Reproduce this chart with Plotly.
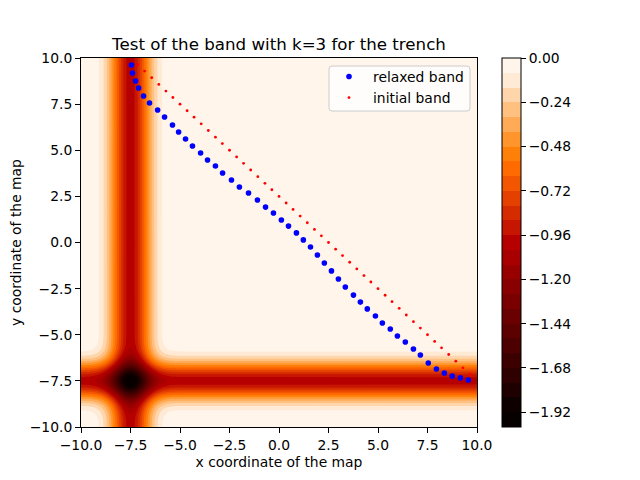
import plotly.graph_objects as go

# Trench depth read across the band, at each grid coordinate
grid = [-10.0, -9.9, -9.8, -9.7, -9.6, -9.5, -9.4, -9.3, -9.2, -9.1, -9.0, -8.9, -8.8, -8.7, -8.6,
        -8.5, -8.4, -8.3, -8.2, -8.1, -8.0, -7.9, -7.8, -7.7, -7.6, -7.5, -7.4, -7.3, -7.2, -7.1,
        -7.0, -6.9, -6.8, -6.7, -6.6, -6.5, -6.4, -6.3, -6.2, -6.1, -6.0, -5.9, -5.8, -5.7, -5.6,
        -5.5, -5.4, -5.3, -5.2, -5.1, -5.0, 10.0]
depth = [-0.002, -0.003, -0.005, -0.008, -0.012, -0.018, -0.027, -0.039, -0.054, -0.077, -0.105,
         -0.141, -0.185, -0.237, -0.298, -0.368, -0.445, -0.527, -0.613, -0.698, -0.779, -0.852,
         -0.914, -0.961, -0.990, -1.0, -0.990, -0.961, -0.914, -0.852, -0.779, -0.698, -0.613,
         -0.527, -0.445, -0.368, -0.298, -0.237, -0.185, -0.141, -0.105, -0.077, -0.054, -0.039,
         -0.027, -0.018, -0.012, -0.008, -0.005, -0.003, -0.002, 0.0]

relaxed_x = [-7.45, -7.40, -7.24, -7.09, -6.84, -6.54, -6.13, -5.78, -5.38, -5.07, -4.72, -4.37,
             -3.96, -3.61, -3.21, -2.85, -2.40, -2.00, -1.54, -1.09, -0.68, -0.28, 0.12, 0.48,
             0.88, 1.23, 1.59, 1.94, 2.29, 2.65, 3.00, 3.35, 3.76, 4.11, 4.46, 4.87,
             5.22, 5.62, 5.98, 6.38, 6.79, 7.14, 7.54, 7.95, 8.35, 8.75, 9.16, 9.56]
relaxed_y = [9.62, 9.19, 8.75, 8.37, 7.94, 7.56, 7.18, 6.80, 6.37, 5.99, 5.61, 5.23,
             4.85, 4.47, 4.15, 3.77, 3.39, 3.01, 2.68, 2.30, 1.92, 1.60, 1.22, 0.89,
             0.52, 0.14, -0.24, -0.68, -1.11, -1.54, -1.98, -2.41, -2.85, -3.23, -3.60, -3.98,
             -4.36, -4.69, -5.07, -5.39, -5.77, -6.10, -6.53, -6.86, -7.07, -7.24, -7.34, -7.45]
initial_x = [-7.14, -6.79, -6.43, -6.07, -5.71, -5.36, -5.00, -4.64, -4.29, -3.93, -3.57, -3.21,
             -2.86, -2.50, -2.14, -1.79, -1.43, -1.07, -0.71, -0.36, 0.00, 0.36, 0.71, 1.07,
             1.43, 1.79, 2.14, 2.50, 2.86, 3.21, 3.57, 3.93, 4.29, 4.64, 5.00, 5.36,
             5.71, 6.07, 6.43, 6.79, 7.14, 7.50, 7.86, 8.21, 8.57, 8.93, 9.29, 9.64]
initial_y = [9.64, 9.29, 8.93, 8.57, 8.21, 7.86, 7.50, 7.14, 6.79, 6.43, 6.07, 5.71,
             5.36, 5.00, 4.64, 4.29, 3.93, 3.57, 3.21, 2.86, 2.50, 2.14, 1.79, 1.43,
             1.07, 0.71, 0.36, 0.00, -0.36, -0.71, -1.07, -1.43, -1.79, -2.14, -2.50, -2.86,
             -3.21, -3.57, -3.93, -4.29, -4.64, -5.00, -5.36, -5.71, -6.07, -6.43, -6.79, -7.14]

# 25 filled bands, darkest first
band_colors = ["#070000", "#160000", "#240000", "#330000", "#420000", "#500000", "#5f0000", "#6d0000",
               "#7c0000", "#8a0000", "#990000", "#a80000", "#b60000", "#c51400", "#d32900", "#e23d00",
               "#f05200", "#ff6600", "#ff7a00", "#ff8f1f", "#ffa347", "#ffb870", "#ffcc99", "#ffe0c2",
               "#fff5eb"]
colorbar_ticks = [0, -0.24, -0.48, -0.72, -0.96, -1.2, -1.44, -1.68, -1.92]

LEVEL_START, LEVEL_END, LEVEL_SIZE = -2.0, -0.08, 0.08

field = [[a + b for a in depth] for b in depth]

n = len(band_colors)
scale = [[0, band_colors[0]]] + [[(i + 1) / n, c] for i, c in enumerate(band_colors)]

# Page has an 8px body margin, so the figure is laid out 8px up and left
W, H, L, R, T, B = 632, 472, 73, 163, 50, 53
PW, PH = W - L - R, H - T - B


def px_x(px):
    return (px - 8 - L) / PW


def px_y(py):
    return 1 - (py - 8 - T) / PH


def rounded_rect(x0, y0, x1, y1, r):
    a, b, c, d = px_x(x0), px_x(x1), px_y(y0), px_y(y1)
    rx, ry = r / PW, r / PH
    return (f"M {a+rx} {c} L {b-rx} {c} Q {b} {c} {b} {c-ry} L {b} {d+ry} Q {b} {d} {b-rx} {d} "
            f"L {a+rx} {d} Q {a} {d} {a} {d+ry} L {a} {c-ry} Q {a} {c} {a+rx} {c} Z")


FONT = "DejaVu Sans"
SMALL, BIG = 13.89, 16.67
fig = go.Figure()
fig.add_trace(go.Contour(
    x=grid, y=grid, z=field, colorscale=scale, zmin=-2.0, zmax=0.0, showlegend=False, hoverinfo="skip",
    contours=dict(coloring="fill", start=LEVEL_START, end=LEVEL_END, size=LEVEL_SIZE, showlines=False),
    line=dict(width=0, smoothing=0),
    colorbar=dict(x=(502 - 81) / PW, xanchor="left", y=0.5, yanchor="middle", len=1, lenmode="fraction",
                  thickness=19, thicknessmode="pixels", xpad=0, ypad=0,
                  outlinecolor="black", outlinewidth=1,
                  tickmode="array", tickvals=colorbar_ticks,
                  tickformat=".2f", ticks="outside", ticklen=4.9, tickwidth=1.1, tickcolor="black",
                  tickfont=dict(family=FONT, size=SMALL, color="black")),
))
fig.add_trace(go.Scatter(x=relaxed_x, y=relaxed_y, mode="markers", name="relaxed band",
                         marker=dict(color="#0000ff", size=5.6, line=dict(width=0))))
fig.add_trace(go.Scatter(x=initial_x, y=initial_y, mode="markers", name="initial band",
                         marker=dict(color="#ff0000", size=2.8, line=dict(width=0))))

axis = dict(range=[-10, 10], tick0=-10, dtick=2.5, tickformat=".1f", ticks="outside", ticklen=4.9,
            tickwidth=1.1, tickcolor="black", showline=True, linecolor="black", linewidth=1.1, mirror=True,
            showgrid=False, zeroline=False, tickfont=dict(family=FONT, size=SMALL, color="black"))
fig.update_layout(
    width=W, height=H, autosize=False,
    margin=dict(l=L, r=R, t=T, b=B, autoexpand=False),
    paper_bgcolor="white", plot_bgcolor="white",
    font=dict(family=FONT, size=SMALL, color="black"),
    title=dict(text="Test of the band with k=3 for the trench", x=0.5, xref="paper", xanchor="center",
               y=1 - 36 / H, yref="container", yanchor="middle", font=dict(family=FONT, size=BIG, color="black")),
    xaxis=dict(axis, title=dict(text="x coordinate of the map", standoff=5, font=dict(family=FONT, size=SMALL))),
    yaxis=dict(axis, title=dict(text="y coordinate of the map", standoff=10, font=dict(family=FONT, size=SMALL))),
    legend=dict(x=px_x(325), xanchor="left", y=px_y(61), yanchor="top", bgcolor="rgba(0,0,0,0)",
                borderwidth=0, itemwidth=38, font=dict(family=FONT, size=SMALL, color="black")),
    shapes=[dict(type="path", xref="paper", yref="paper", layer="above",
                 path=rounded_rect(329, 66, 470, 111, 3),
                 fillcolor="rgba(255,255,255,0.8)", line=dict(color="#cccccc", width=1))],
)
fig.write_html("out.html")
